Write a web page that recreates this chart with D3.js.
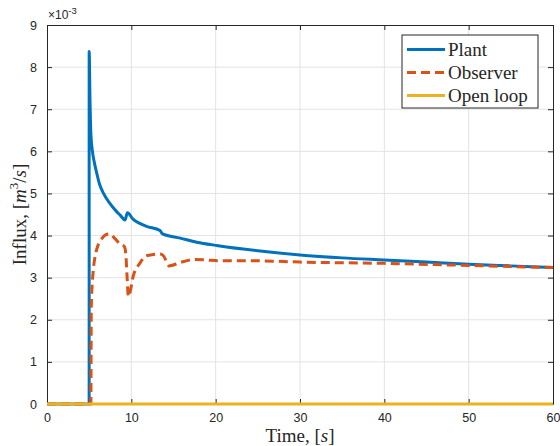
<!DOCTYPE html>
<html>
<head>
<meta charset="utf-8">
<script src="https://cdn.jsdelivr.net/npm/d3@7"></script>
<style>
  html, body { margin: 0; padding: 0; background: #fff; }
  svg { display: block; }
  .tick text { font-family: "Liberation Sans", Arial, sans-serif; font-size: 12.5px; fill: #262626; }
  .serif { font-family: "Liberation Serif", "Times New Roman", serif; fill: #262626; }
</style>
</head>
<body>
<svg id="chart" width="560" height="446"></svg>
<script>
// Time in seconds, influx in units of 1e-3 m^3/s
const plantT = [0, 4.999, 5.0, 5.1, 5.2, 5.37, 5.6, 5.9, 6.2, 6.7, 7.5, 8.2, 8.7, 9.25, 9.53, 10.2, 11.0, 11.8, 13.4, 13.7, 15.8, 17.75, 20.3, 25, 30, 35, 40, 45, 50, 55, 60];
const plantV = [0, 0, 8.37, 7.2, 6.43, 6.03, 5.75, 5.48, 5.24, 5.0, 4.75, 4.58, 4.48, 4.37, 4.54, 4.39, 4.29, 4.22, 4.12, 4.04, 3.94, 3.84, 3.76, 3.64, 3.54, 3.47, 3.42, 3.37, 3.32, 3.28, 3.24];

const observerT = [0, 5.2, 5.25, 5.5, 5.7, 6.0, 6.5, 7.0, 7.4, 8.0, 8.66, 9.17, 9.35, 9.5, 9.65, 9.9, 10.2, 11.0, 11.8, 12.6, 13.4, 13.8, 14.5, 15.8, 17.55, 18.9, 20.3, 25, 30, 40, 50, 60];
const observerV = [0, 0, 2.3, 3.2, 3.5, 3.74, 3.93, 4.02, 4.04, 3.94, 3.8, 3.74, 3.55, 3.0, 2.55, 2.7, 3.02, 3.34, 3.52, 3.55, 3.56, 3.52, 3.28, 3.36, 3.43, 3.42, 3.40, 3.40, 3.37, 3.34, 3.29, 3.24];

const openLoopT = [0, 60];
const openLoopV = [0, 0];

const xTicks = [0, 10, 20, 30, 40, 50, 60];
const yTicks = [0, 1, 2, 3, 4, 5, 6, 7, 8, 9];

const seriesNames = ["Plant", "Observer", "Open loop"];
const seriesColors = ["#0072BD", "#D95319", "#EDB120"];

const margin = { left: 47, right: 7, top: 25, bottom: 42 };
const W = 560, H = 446;
const svg = d3.select("#chart");

const x = d3.scaleLinear().domain([0, 60]).range([margin.left, W - margin.right]);
const y = d3.scaleLinear().domain([0, 9]).range([H - margin.bottom, margin.top]);

const axisColor = "#262626";
const gridColor = "#e3e3e3";

// grid
const grid = svg.append("g");
grid.selectAll(".gx").data(xTicks.slice(1, -1)).join("line")
  .attr("x1", d => x(d)).attr("x2", d => x(d))
  .attr("y1", y(0)).attr("y2", y(9))
  .attr("stroke", gridColor).attr("stroke-width", 1);
grid.selectAll(".gy").data(yTicks.slice(1, -1)).join("line")
  .attr("x1", x(0)).attr("x2", x(60))
  .attr("y1", d => y(d)).attr("y2", d => y(d))
  .attr("stroke", gridColor).attr("stroke-width", 1);

// axes (ticks pointing inward, mirrored on top/right)
const tickLen = 5;
function styleAxis(g) {
  g.select(".domain").attr("stroke", axisColor);
  g.selectAll(".tick line").attr("stroke", axisColor);
}
svg.append("g").attr("transform", `translate(0,${y(0)})`)
  .call(d3.axisBottom(x).tickValues(xTicks).tickSizeInner(-tickLen).tickSizeOuter(0).tickPadding(9))
  .call(styleAxis);
svg.append("g").attr("transform", `translate(0,${y(9)})`)
  .call(d3.axisTop(x).tickValues(xTicks).tickSizeInner(-tickLen).tickSizeOuter(0).tickFormat(""))
  .call(styleAxis);
svg.append("g").attr("transform", `translate(${x(0)},0)`)
  .call(d3.axisLeft(y).tickValues(yTicks).tickSizeInner(-tickLen).tickSizeOuter(0).tickPadding(10))
  .call(styleAxis);
svg.append("g").attr("transform", `translate(${x(60)},0)`)
  .call(d3.axisRight(y).tickValues(yTicks).tickSizeInner(-tickLen).tickSizeOuter(0).tickFormat(""))
  .call(styleAxis);

// exponent label
const expo = svg.append("text")
  .attr("x", x(0) + 1).attr("y", y(9) - 6)
  .attr("font-family", "Liberation Sans, Arial, sans-serif")
  .attr("font-size", 12).attr("fill", axisColor);
expo.append("tspan").text("\u00d710");
expo.append("tspan").attr("dy", -5).attr("font-size", 9.5).text("-3");

// series lines
const line = d3.line().x(d => x(d[0])).y(d => y(d[1])).curve(d3.curveMonotoneX);
const plantData = plantT.map((t, i) => [t, plantV[i]]);
const observerData = observerT.map((t, i) => [t, observerV[i]]);
const openLoopData = openLoopT.map((t, i) => [t, openLoopV[i]]);

svg.append("path").datum(plantData).attr("d", line)
  .attr("fill", "none").attr("stroke", seriesColors[0]).attr("stroke-width", 3)
  .attr("stroke-linejoin", "round");
svg.append("path").datum(observerData).attr("d", line)
  .attr("fill", "none").attr("stroke", seriesColors[1]).attr("stroke-width", 3)
  .attr("stroke-dasharray", "9,5").attr("stroke-linejoin", "round");
svg.append("path").datum(openLoopData).attr("d", line)
  .attr("fill", "none").attr("stroke", seriesColors[2]).attr("stroke-width", 3);

// axis labels
const xl = svg.append("text").attr("class", "serif")
  .attr("x", (x(0) + x(60)) / 2).attr("y", 442)
  .attr("text-anchor", "middle").attr("font-size", 19);
xl.append("tspan").text("Time, [");
xl.append("tspan").attr("font-style", "italic").text("s");
xl.append("tspan").text("]");

const yl = svg.append("text").attr("class", "serif")
  .attr("transform", `translate(26,${(y(0) + y(9)) / 2}) rotate(-90)`)
  .attr("text-anchor", "middle").attr("font-size", 19);
yl.append("tspan").text("Influx, [");
yl.append("tspan").attr("font-style", "italic").text("m");
yl.append("tspan").attr("dy", -8).attr("font-size", 13).text("3");
yl.append("tspan").attr("dy", 8).text("/");
yl.append("tspan").attr("font-style", "italic").text("s");
yl.append("tspan").text("]");

// legend
const lg = svg.append("g");
lg.append("rect").attr("x", 402).attr("y", 35).attr("width", 136).attr("height", 73)
  .attr("fill", "#fff").attr("stroke", axisColor).attr("stroke-width", 1);
const rows = lg.selectAll(".row").data(seriesNames).join("g")
  .attr("transform", (d, i) => `translate(0,${49.5 + i * 23})`);
rows.append("line").attr("x1", 407).attr("x2", 445).attr("y1", 0).attr("y2", 0)
  .attr("stroke", (d, i) => seriesColors[i]).attr("stroke-width", 3)
  .attr("stroke-dasharray", (d, i) => i === 1 ? "9,5" : null);
rows.append("text").attr("class", "serif").attr("x", 448).attr("y", 6)
  .attr("font-size", 19).text(d => d);
</script>
</body>
</html>
